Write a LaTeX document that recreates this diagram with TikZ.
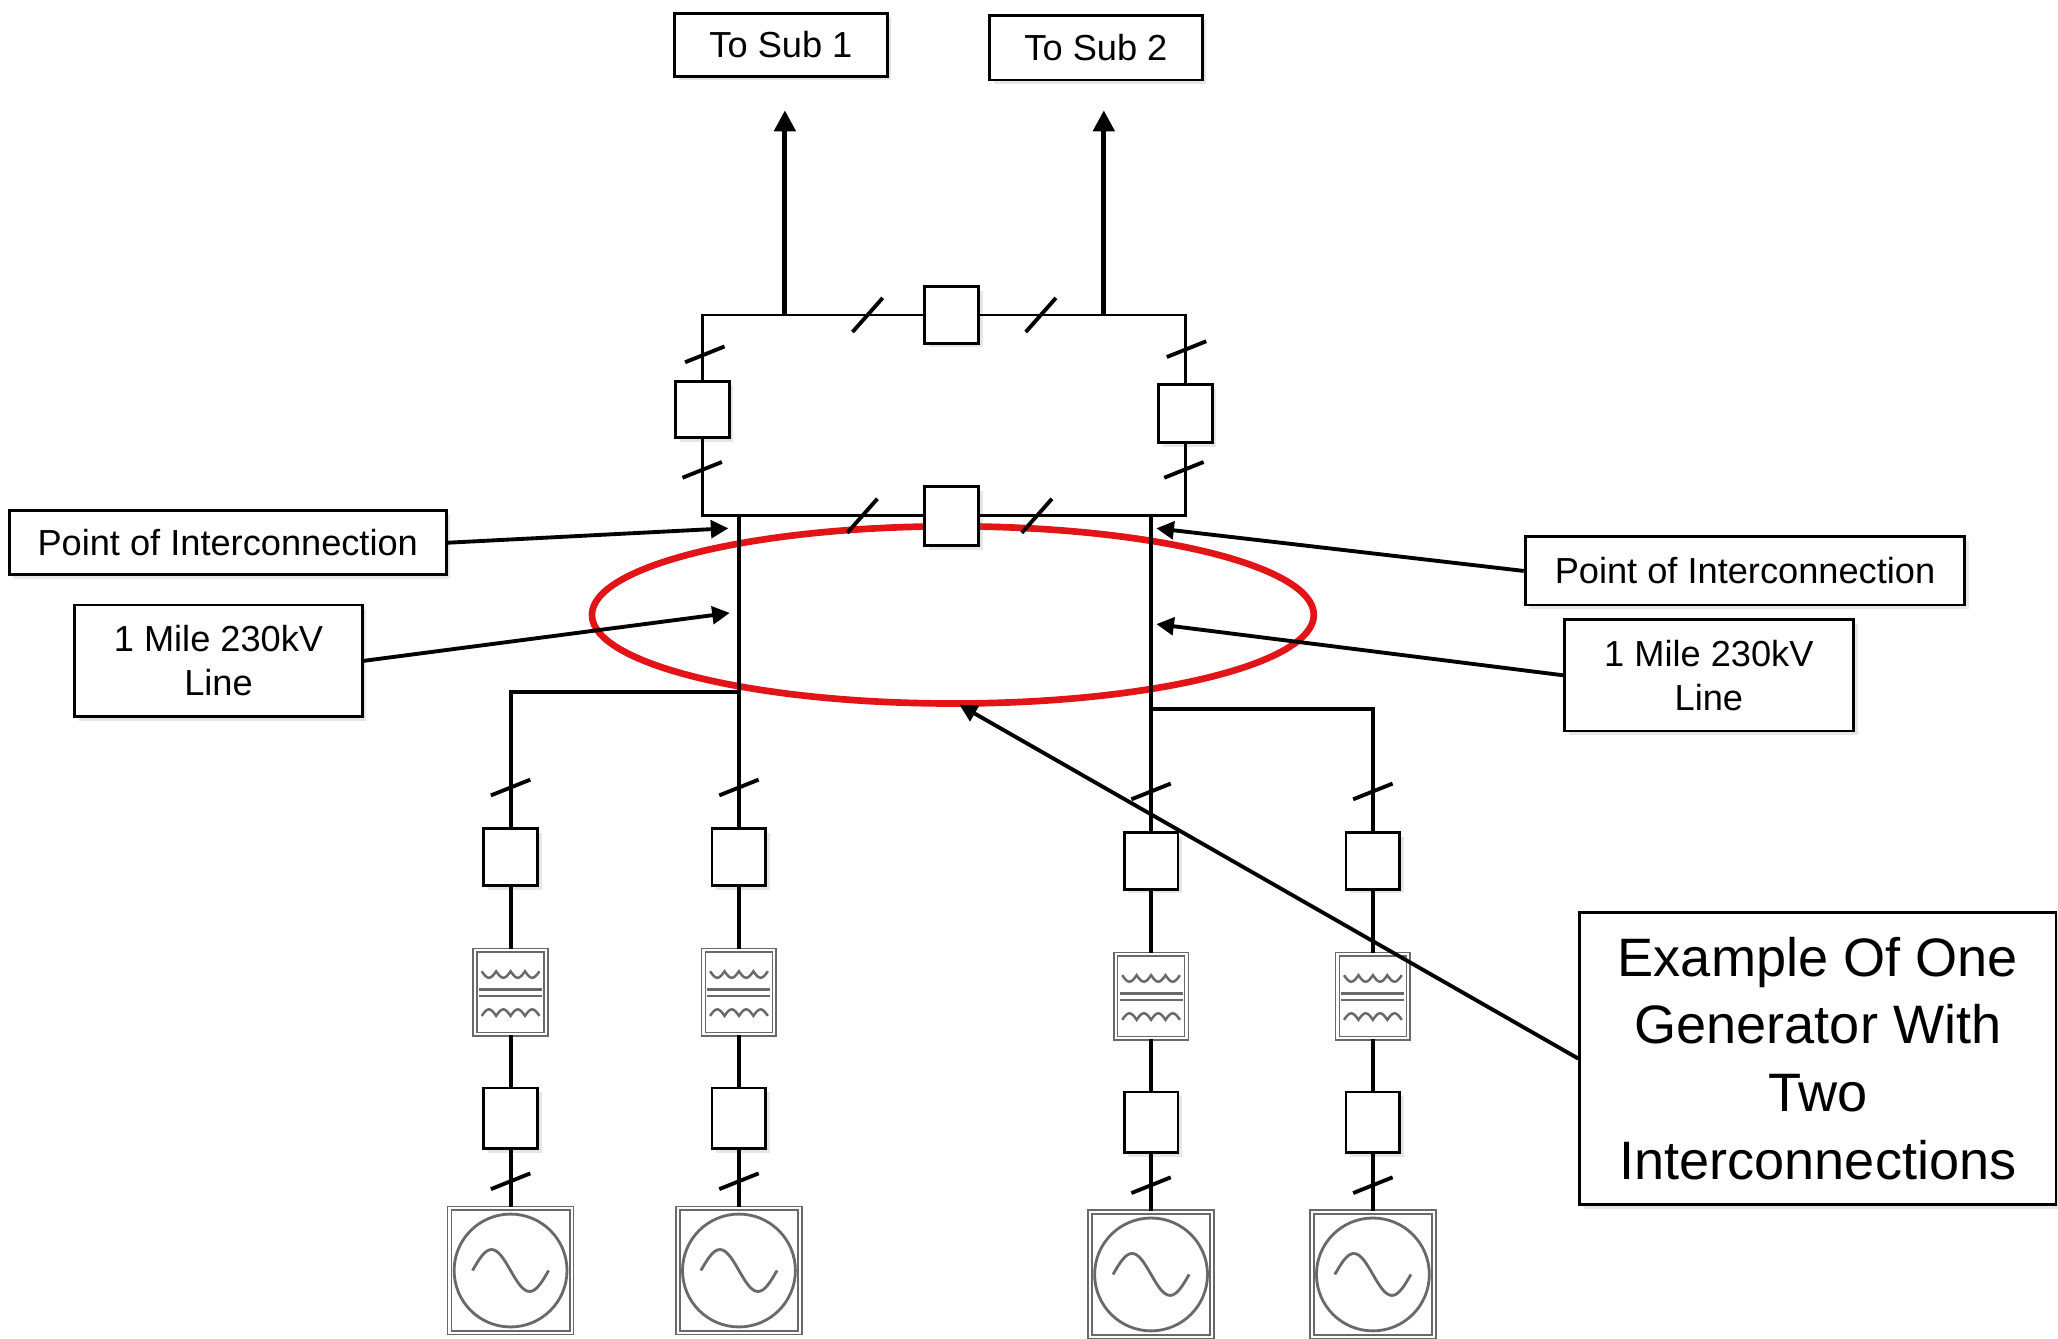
\documentclass[tikz,border=0pt]{standalone}
\usepackage{fontspec}
\setmainfont{Liberation Sans}
\usetikzlibrary{arrows.meta,shadows}
\newlength{\dunit}
\setlength{\dunit}{0.013125cm}
\definecolor{ringred}{RGB}{226,20,24}
\definecolor{symgray}{RGB}{105,105,105}

\tikzset{
  bus/.style={line width=0.85pt},
  wire/.style={line width=1.1pt},
  slash/.style={line width=1.1pt},
  ptr/.style={line width=1.1pt,-{Triangle[length=5pt,width=5pt]}},
  feed/.style={line width=1.4pt,-{Triangle[length=6pt,width=6pt]}},
  softshadow/.style={drop shadow={opacity=0.2,shadow xshift=1.2pt,shadow yshift=-1.2pt}},
  lbl/.style={draw,fill=white,line width=0.8pt,softshadow,align=center,inner sep=0pt,
    font=\fontsize{10.3}{12.4}\selectfont},
  brk/.style={draw,fill=white,line width=0.8pt,softshadow,minimum width=41\dunit,
    minimum height=43\dunit,inner sep=0pt},
  symbox/.style={draw=symgray,double=white,double distance=0.6pt,line width=0.45pt,
    fill=white,inner sep=0pt},
  xfmr/.style={symbox,minimum width=54\dunit,minimum height=64\dunit,path picture={
    \begin{scope}[shift={(path picture bounding box.center)},symgray,line width=0.7pt]
      \draw (-22,-16) \foreach \k in {1,...,4}{sin ++(5.5,5) cos ++(5.5,-5)};
      \draw (-22,18) \foreach \k in {1,...,4}{sin ++(5.5,-5) cos ++(5.5,5)};
      \draw (-24,-2) -- (24,-2) (-24,3) -- (24,3);
    \end{scope}}},
  gen/.style={symbox,minimum width=93\dunit,minimum height=95\dunit,path picture={
    \begin{scope}[shift={(path picture bounding box.center)},symgray,line width=0.8pt]
      \draw (0,0) circle[radius=43\dunit];
      \draw (-29,0) sin ++(14.5,-16) cos ++(14.5,16) sin ++(14.5,16) cos ++(14.5,-16);
    \end{scope}}}
}

\begin{document}
\begin{tikzpicture}[x=0.013125cm,y=-0.013125cm]
\useasboundingbox (0,0) rectangle (1568,1020);
% red ring round the two lines
\draw[ringred,line width=1.9pt] (726,468.5) ellipse[x radius=275\dunit,y radius=67.5\dunit];
% ring bus
\node[brk] (tb) at (725,240) {};
\node[brk,minimum height=45\dunit] (bb) at (725,393) {};
\node[brk] (lb) at (535,312) {};
\node[brk,minimum height=44\dunit] (rb) at (903,315) {};
\draw[bus] (tb.west) -| (lb.north) (lb.south) |- (bb.west)
  (bb.east) -| (rb.south) (rb.north) |- (tb.east);
\foreach \p in {(661,240),(793,240),(657,393),(790,393)}
  \draw[slash] \p ++(-11.5,13) -- ++(23,-26);
\foreach \p in {(537,270),(535,358),(904,266),(902,358)}
  \draw[slash] \p ++(-15,6) -- ++(30,-12);
% out to the subs
\coordinate (tap1) at (598,240);
\coordinate (tap2) at (841,240);
\node[lbl,minimum width=162\dunit,minimum height=48\dunit] (sub1) at (595,34) {To Sub 1};
\node[lbl,minimum width=162\dunit,minimum height=49\dunit] (sub2) at (835,36.5) {To Sub 2};
\draw[feed,shorten >=25\dunit] (tap1) -- (tap1 |- sub1.south);
\draw[feed,shorten >=22\dunit] (tap2) -- (tap2 |- sub2.south);
% generator strings
\foreach \c/\x/\d in {a/389/0,b/563/0,c/877/3,d/1046/3}{
  \node[brk] (\c1) at (\x,653+\d) {};
  \node[xfmr] (\c2) at (\x,756+\d) {};
  \node[brk,minimum height=46\dunit] (\c3) at (\x,852+\d) {};
  \node[gen] (\c4) at (\x,968+\d) {};
  \draw[wire] (\c1) -- (\c2) (\c2) -- (\c3) (\c3) -- (\c4);
  \draw[slash] (\x,600+\d) ++(-15,6) -- ++(30,-12);
  \draw[slash] (\x,900+\d) ++(-15,6) -- ++(30,-12);
}
\coordinate (fL) at (563,393);
\coordinate (fR) at (877,393);
\coordinate (jL) at (563,527);
\coordinate (jR) at (877,540);
\draw[wire] (fL) -- (b1) (jL) -| (a1) (fR) -- (c1) (jR) -| (d1);
% labels
\node[lbl,minimum width=333\dunit,minimum height=49\dunit] (poiA) at (173.5,413.5) {Point of Interconnection};
\node[lbl,minimum width=219\dunit,minimum height=85\dunit] (lineA) at (166.5,503.5) {1 Mile 230kV\\Line};
\node[lbl,minimum width=335\dunit,minimum height=52\dunit] (poiB) at (1329.5,435) {Point of Interconnection};
\node[lbl,minimum width=220\dunit,minimum height=85\dunit] (lineB) at (1302,514.5) {1 Mile 230kV\\Line};
\node[lbl,minimum width=363\dunit,minimum height=223\dunit,font=\fontsize{15.4}{19.3}\selectfont]
  (note) at (1385,806.5) {Example Of One\\Generator With\\Two\\Interconnections};
\coordinate (poiL) at (555,402.5);
\coordinate (lineL) at (556,467);
\coordinate (poiR) at (881,402.5);
\coordinate (lineR) at (881,475.5);
\coordinate (ovalbot) at (731,537);
\draw[ptr] (poiA.east) -- (poiL);
\draw[ptr] (lineA.east) -- (lineL);
\draw[ptr] (poiB.west) -- (poiR);
\draw[ptr] (lineB.west) -- (lineR);
\draw[ptr] (note.west) -- (ovalbot);
\end{tikzpicture}
\end{document}
